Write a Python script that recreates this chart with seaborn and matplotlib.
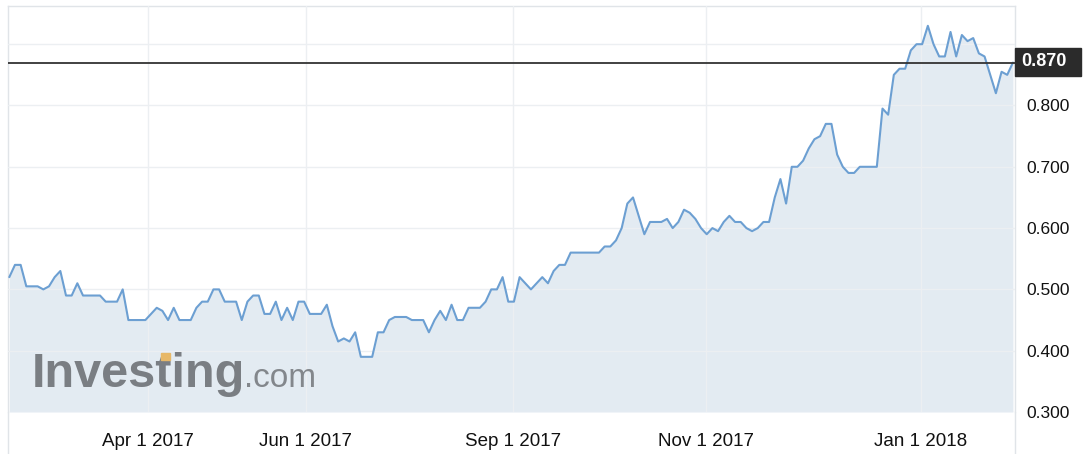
import numpy as np
import pandas as pd
import matplotlib
matplotlib.use('Agg')
import matplotlib.pyplot as plt
from matplotlib.lines import Line2D
from matplotlib.patches import Rectangle
import seaborn as sns

# ── Data (one value per traded session) ─────────────────────────
price = [
    0.52, 0.54, 0.54, 0.505, 0.505, 0.505, 0.50, 0.505, 0.52, 0.53,
    0.49, 0.49, 0.51, 0.49, 0.49, 0.49, 0.49, 0.48, 0.48, 0.48,
    0.50, 0.45, 0.45, 0.45, 0.45, 0.46, 0.47, 0.465, 0.45, 0.47,
    0.45, 0.45, 0.45, 0.47, 0.48, 0.48, 0.50, 0.50, 0.48, 0.48,
    0.48, 0.45, 0.48, 0.49, 0.49, 0.46, 0.46, 0.48, 0.45, 0.47,
    0.45, 0.48, 0.48, 0.46, 0.46, 0.46, 0.475, 0.44, 0.415, 0.42,
    0.415, 0.43, 0.39, 0.39, 0.39, 0.43, 0.43, 0.45, 0.455, 0.455,
    0.455, 0.45, 0.45, 0.45, 0.43, 0.45, 0.465, 0.45, 0.475, 0.45,
    0.45, 0.47, 0.47, 0.47, 0.48, 0.50, 0.50, 0.52, 0.48, 0.48,
    0.52, 0.51, 0.50, 0.51, 0.52, 0.51, 0.53, 0.54, 0.54, 0.56,
    0.56, 0.56, 0.56, 0.56, 0.56, 0.57, 0.57, 0.58, 0.60, 0.64,
    0.65, 0.62, 0.59, 0.61, 0.61, 0.61, 0.615, 0.60, 0.61, 0.63,
    0.625, 0.615, 0.60, 0.59, 0.60, 0.595, 0.61, 0.62, 0.61, 0.61,
    0.60, 0.595, 0.60, 0.61, 0.61, 0.65, 0.68, 0.64, 0.70, 0.70,
    0.71, 0.73, 0.745, 0.75, 0.77, 0.77, 0.72, 0.70, 0.69, 0.69,
    0.70, 0.70, 0.70, 0.70, 0.795, 0.785, 0.85, 0.86, 0.86, 0.89,
    0.90, 0.90, 0.93, 0.90, 0.88, 0.88, 0.92, 0.88, 0.915, 0.905,
    0.91, 0.885, 0.88, 0.85, 0.82, 0.855, 0.85, 0.87,
]
tick_labels = ['Apr 1 2017', 'Jun 1 2017', 'Sep 1 2017', 'Nov 1 2017', 'Jan 1 2018']
tick_session = [24.5, 52.3, 88.8, 122.9, 160.8]   # session index where each date falls
y_ticks = [0.3, 0.4, 0.5, 0.6, 0.7, 0.8, 0.9]
last_price = 0.870

COL = {
    'line'  : '#6c9fd2',
    'fill'  : '#e3ebf2',
    'grid'  : '#eceff2',
    'frame' : '#e0e4e8',
    'badge' : '#2b2b2b',
    'logo'  : '#7a7e83',
    'gold'  : '#e7b868',
}

sns.set_theme(style='white')
plt.rcParams['font.family'] = ['Liberation Sans', 'DejaVu Sans']

df = pd.DataFrame({'session': np.arange(len(price)), 'price': price})

W, H = 1086, 454
fig = plt.figure(figsize=(W / 100, H / 100), dpi=100)
ax = fig.add_axes([8 / W, (H - 412) / H, (1015 - 8) / W, (412 - 6) / H])

ax.fill_between(df['session'], df['price'], 0.3, color=COL['fill'], lw=0, zorder=1)
sns.lineplot(data=df, x='session', y='price', color=COL['line'], lw=1.5, ax=ax, zorder=3)
ax.axhline(last_price, color='#333333', lw=1.3, zorder=4)

ax.set_xlim(-0.23, len(price) - 1 + 0.37)
ax.set_ylim(0.3, 0.3 + 406 / 613)
ax.set_xlabel('')
ax.set_ylabel('')

ax.set_xticks(tick_session)
ax.set_xticklabels(tick_labels, fontsize=13.5, color='#111111')
ax.set_yticks(y_ticks)
ax.set_yticklabels([f'{v:.3f}' if v < 0.85 else '' for v in y_ticks], fontsize=12.5, color='#111111')
ax.yaxis.tick_right()
ax.tick_params(axis='x', length=0, pad=15)
ax.tick_params(axis='y', length=0, pad=8)

ax.set_axisbelow(False)
ax.grid(True, color=COL['grid'], lw=1)

for side in ['left', 'right', 'top']:
    ax.spines[side].set_color(COL['frame'])
    ax.spines[side].set_linewidth(1)
ax.spines['bottom'].set_visible(False)

# frame continues below the plot area down to the image edge
for px in (8, 1015):
    fig.add_artist(Line2D([px / W, px / W], [0, (H - 412) / H],
                          transform=fig.transFigure, color=COL['frame'], lw=1))

# last-price badge
fig.add_artist(Rectangle((1015 / W, (H - 76) / H), 66 / W, 28 / H,
                         transform=fig.transFigure, color=COL['badge'], zorder=5))
fig.text(1021 / W, (H - 62) / H, f'{last_price:.3f}', ha='left', va='center',
         color='white', fontsize=13, fontweight='bold', zorder=6)

# watermark
base = (H - 387) / H
fig.text(32 / W, base, 'Investing', fontsize=35, fontweight='bold',
         color=COL['logo'], va='baseline', zorder=4)
fig.text(244 / W, base, '.com', fontsize=24, color='#83878c', va='baseline', zorder=4)
fig.add_artist(Rectangle((161 / W, (H - 360) / H), 9 / W, 7 / H,
                         transform=fig.transFigure, color=COL['gold'], zorder=5))

fig.savefig('out.png', dpi=100)
